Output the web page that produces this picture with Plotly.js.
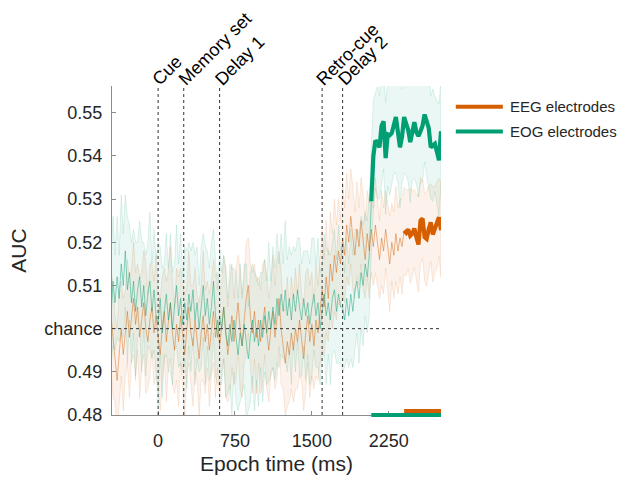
<!DOCTYPE html>
<html>
<head>
<meta charset="utf-8">
<script src="https://cdn.plot.ly/plotly-3.0.1.min.js"></script>
<style>html,body{margin:0;padding:0;background:#fff;}#chart{width:630px;height:477px;}</style>
</head>
<body>
<div id="chart"></div>
<script>
// ---- data ----
const times = [-460,-440,-420,-400,-380,-360,-340,-320,-300,-280,
  -260,-240,-220,-200,-180,-160,-140,-120,-100,-80,
  -60,-40,-20,0,20,40,60,80,100,120,
  140,160,180,200,220,240,260,280,300,320,
  340,360,380,400,420,440,460,480,500,520,
  540,560,580,600,620,640,660,680,700,720,
  740,760,780,800,820,840,860,880,900,920,
  940,960,980,1000,1020,1040,1060,1080,1100,1120,
  1140,1160,1180,1200,1220,1240,1260,1280,1300,1320,
  1340,1360,1380,1400,1420,1440,1460,1480,1500,1520,
  1540,1560,1580,1600,1620,1640,1660,1680,1700,1720,
  1740,1760,1780,1800,1820,1840,1860,1880,1900,1920,
  1940,1960,1980,2000,2020,2040,2060,2080,2100,2120,
  2140,2160,2180,2200,2220,2240,2260,2280,2300,2320,
  2340,2360,2380,2400,2420,2440,2460,2480,2500,2520,
  2540,2560,2580,2600,2620,2640,2660,2680,2700,2720,
  2740,2760];

const seriesNames = ["EEG electrodes", "EOG electrodes"];

const eegMean = [0.503,0.497,0.493,0.488,0.495,0.500,0.494,0.499,0.504,0.498,
  0.503,0.507,0.501,0.505,0.498,0.502,0.506,0.500,0.497,0.502,
  0.505,0.499,0.503,0.498,0.494,0.500,0.504,0.497,0.502,0.506,
  0.499,0.495,0.501,0.497,0.503,0.498,0.494,0.500,0.505,0.499,
  0.496,0.502,0.498,0.493,0.499,0.503,0.497,0.501,0.495,0.500,
  0.504,0.498,0.502,0.496,0.500,0.505,0.499,0.494,0.498,0.503,
  0.497,0.501,0.506,0.500,0.496,0.502,0.507,0.510,0.503,0.499,
  0.504,0.498,0.502,0.497,0.501,0.505,0.499,0.495,0.500,0.504,
  0.498,0.502,0.507,0.500,0.496,0.492,0.497,0.494,0.499,0.495,
  0.500,0.497,0.502,0.498,0.493,0.499,0.503,0.497,0.501,0.496,
  0.502,0.499,0.504,0.509,0.505,0.512,0.507,0.515,0.511,0.517,
  0.513,0.518,0.515,0.521,0.517,0.524,0.520,0.526,0.521,0.517,
  0.523,0.519,0.525,0.520,0.516,0.522,0.518,0.523,0.519,0.524,
  0.520,0.516,0.521,0.518,0.523,0.519,0.515,0.520,0.517,0.522,
  0.518,0.521,0.519,0.5227,0.5222,0.5230,0.5215,0.5220,0.5232,0.5212,
  0.5195,0.5250,0.5255,0.5212,0.5208,0.5230,0.5246,0.5218,0.5230,0.5240,
  0.5258,0.5228];

const eegErr = [0.011,0.013,0.010,0.012,0.014,0.011,0.013,0.010,0.012,0.014,
  0.011,0.013,0.012,0.010,0.014,0.011,0.012,0.015,0.011,0.013,
  0.010,0.012,0.014,0.011,0.013,0.012,0.010,0.014,0.011,0.013,
  0.012,0.010,0.013,0.015,0.011,0.012,0.014,0.010,0.013,0.011,
  0.014,0.012,0.010,0.013,0.011,0.015,0.012,0.010,0.013,0.011,
  0.012,0.014,0.011,0.013,0.010,0.012,0.015,0.011,0.013,0.012,
  0.010,0.013,0.011,0.014,0.012,0.010,0.013,0.011,0.012,0.014,
  0.011,0.013,0.010,0.012,0.014,0.011,0.013,0.012,0.010,0.013,
  0.012,0.014,0.011,0.013,0.010,0.012,0.015,0.011,0.013,0.012,
  0.014,0.011,0.013,0.010,0.012,0.014,0.011,0.013,0.012,0.010,
  0.013,0.011,0.012,0.014,0.011,0.013,0.010,0.012,0.011,0.013,
  0.011,0.012,0.010,0.013,0.011,0.012,0.010,0.011,0.012,0.010,
  0.011,0.009,0.010,0.011,0.009,0.010,0.011,0.010,0.009,0.011,
  0.010,0.009,0.011,0.010,0.009,0.010,0.011,0.009,0.010,0.011,
  0.010,0.009,0.011,0.010,0.010,0.009,0.011,0.010,0.009,0.010,
  0.011,0.010,0.009,0.010,0.011,0.010,0.009,0.011,0.010,0.010,
  0.009,0.011];

const eogMean = [0.503,0.511,0.506,0.512,0.507,0.515,0.510,0.518,0.509,0.513,
  0.506,0.511,0.504,0.509,0.512,0.505,0.510,0.503,0.508,0.511,
  0.504,0.509,0.503,0.501,0.507,0.499,0.504,0.508,0.502,0.506,
  0.500,0.505,0.510,0.503,0.507,0.501,0.506,0.502,0.508,0.504,
  0.509,0.502,0.506,0.500,0.505,0.510,0.503,0.507,0.501,0.505,
  0.511,0.503,0.498,0.503,0.500,0.505,0.499,0.496,0.501,0.497,
  0.502,0.498,0.494,0.499,0.496,0.501,0.497,0.493,0.498,0.502,
  0.497,0.500,0.496,0.502,0.498,0.503,0.499,0.504,0.500,0.505,
  0.501,0.507,0.503,0.508,0.504,0.509,0.503,0.507,0.502,0.508,
  0.504,0.509,0.505,0.502,0.507,0.503,0.506,0.501,0.505,0.508,
  0.503,0.506,0.500,0.504,0.508,0.503,0.506,0.502,0.507,0.509,
  0.504,0.508,0.505,0.505,0.502,0.507,0.503,0.508,0.504,0.509,
  0.511,0.507,0.513,0.510,0.515,0.512,0.517,0.5295,0.5400,0.5436,
  0.5430,0.5420,0.5470,0.5480,0.5395,0.5450,0.5448,0.5453,0.5470,0.5490,
  0.5455,0.5420,0.5445,0.5490,0.5475,0.5460,0.5432,0.5455,0.5478,0.5455,
  0.5446,0.5457,0.5470,0.5496,0.5480,0.5465,0.5420,0.5425,0.5428,0.5410,
  0.5390,0.5457];

const eogErr = [0.012,0.015,0.011,0.014,0.010,0.016,0.012,0.013,0.017,0.011,
  0.014,0.012,0.016,0.011,0.013,0.015,0.010,0.014,0.012,0.016,
  0.011,0.014,0.013,0.019,0.012,0.015,0.011,0.014,0.012,0.016,
  0.013,0.010,0.014,0.012,0.015,0.011,0.013,0.016,0.012,0.014,
  0.011,0.015,0.013,0.010,0.014,0.012,0.016,0.011,0.013,0.015,
  0.012,0.014,0.011,0.016,0.013,0.012,0.015,0.011,0.014,0.017,
  0.012,0.015,0.013,0.016,0.011,0.014,0.018,0.012,0.015,0.013,
  0.016,0.012,0.014,0.011,0.015,0.013,0.012,0.016,0.011,0.014,
  0.013,0.015,0.012,0.014,0.011,0.016,0.013,0.012,0.015,0.011,
  0.014,0.012,0.016,0.013,0.011,0.015,0.012,0.014,0.016,0.013,
  0.012,0.015,0.013,0.011,0.014,0.016,0.012,0.015,0.013,0.014,
  0.012,0.016,0.013,0.015,0.011,0.014,0.012,0.015,0.013,0.014,
  0.012,0.015,0.013,0.014,0.012,0.013,0.014,0.012,0.013,0.011,
  0.013,0.012,0.014,0.011,0.013,0.012,0.014,0.012,0.011,0.013,
  0.012,0.014,0.011,0.013,0.012,0.012,0.014,0.011,0.013,0.012,
  0.014,0.012,0.013,0.011,0.012,0.014,0.012,0.013,0.011,0.012,
  0.013,0.012];

// first time point of significant decoding (thick line + bar)
const eegSigStart = 2400;
const eogSigStart = 2080;

const eventTimes = [0, 250, 600, 1600, 1800];
const eventLabels = ["Cue", "Memory set", "Delay 1", "Retro-cue", "Delay 2"];

const chanceLevel = 0.5;
const yTickVals = [0.48, 0.49, 0.50, 0.51, 0.52, 0.53, 0.54, 0.55];
const yTickText = ["0.48", "0.49", "chance", "0.51", "0.52", "0.53", "0.54", "0.55"];
const xTickVals = [0, 750, 1500, 2250];

// ---- styling ----
const FONT = "Liberation Sans, Arial, Helvetica, sans-serif";
const TXT = "#262626";
const colEEG = [213, 94, 0];
const colEOG = [0, 158, 115];
const rgba = (c, a) => `rgba(${c[0]},${c[1]},${c[2]},${a})`;

function band(mean, err, col) {
  const up = mean.map((m, i) => m + err[i]);
  const lo = mean.map((m, i) => m - err[i]);
  return {
    x: times.concat(times.slice().reverse()),
    y: up.concat(lo.slice().reverse()),
    type: "scatter", mode: "lines", fill: "toself",
    fillcolor: rgba(col, 0.08),
    line: {color: rgba(col, 0.16), width: 0.8},
    hoverinfo: "skip", showlegend: false
  };
}
function thin(mean, col) {
  return {x: times, y: mean, type: "scatter", mode: "lines",
    line: {color: rgba(col, 0.45), width: 1}, showlegend: false};
}
function thick(mean, start, col, name) {
  const xs = [], ys = [];
  times.forEach((t, i) => { if (t >= start) { xs.push(t); ys.push(mean[i]); } });
  return {x: xs, y: ys, type: "scatter", mode: "lines", name: name,
    line: {color: rgba(col, 1), width: 4.2}, showlegend: false};
}

const data = [
  band(eegMean, eegErr, colEEG),
  band(eogMean, eogErr, colEOG),
  thin(eegMean, colEEG),
  thin(eogMean, colEOG),
  thick(eogMean, eogSigStart, colEOG, seriesNames[1]),
  thick(eegMean, eegSigStart, colEEG, seriesNames[0])
];

const shapes = [];
const annotations = [];
eventTimes.forEach((t, i) => {
  shapes.push({type: "line", xref: "x", yref: "paper", x0: t, x1: t, y0: 0, y1: 1,
    line: {color: "#333", width: 1, dash: "3px,3px"}});
  annotations.push({xref: "x", yref: "paper", x: t, y: 1, text: eventLabels[i],
    showarrow: false, textangle: -45, xanchor: "left", yanchor: "bottom",
    xshift: -12, yshift: -6, font: {family: FONT, size: 18, color: "#000"}});
});
shapes.push({type: "line", xref: "paper", yref: "y", x0: 0, x1: 1, y0: chanceLevel, y1: chanceLevel,
  line: {color: "#333", width: 1, dash: "3px,3px"}});

// significance bars
const tEnd = times[times.length - 1];
shapes.push({type: "rect", xref: "x", yref: "paper", x0: eogSigStart, x1: tEnd, y0: -0.006, y1: 0.006,
  fillcolor: rgba(colEOG, 1), line: {width: 0}, layer: "above"});
shapes.push({type: "rect", xref: "x", yref: "paper", x0: eegSigStart, x1: tEnd, y0: 0.006, y1: 0.018,
  fillcolor: rgba(colEEG, 1), line: {width: 0}, layer: "above"});

// custom legend
const legCols = [colEEG, colEOG];
const legY = [0.937, 0.862];
seriesNames.forEach((n, i) => {
  shapes.push({type: "line", xref: "paper", yref: "paper", x0: 1.045, x1: 1.188, y0: legY[i], y1: legY[i],
    line: {color: rgba(legCols[i], 1), width: 4}});
  annotations.push({xref: "paper", yref: "paper", x: 1.205, y: legY[i], text: n, showarrow: false,
    xanchor: "left", yanchor: "middle", font: {family: FONT, size: 15, color: TXT}});
});

const layout = {
  width: 630, height: 477,
  margin: {l: 112, r: 189, t: 86, b: 62},
  paper_bgcolor: "#fff", plot_bgcolor: "#fff",
  font: {family: FONT, color: TXT},
  showlegend: false,
  xaxis: {
    range: [-450, 2760], tickvals: xTickVals, ticks: "inside", ticklen: 4, tickcolor: "#8c8c8c",
    showline: true, linecolor: "#8c8c8c", linewidth: 1, showgrid: false, zeroline: false,
    tickfont: {family: FONT, size: 18, color: TXT}, ticklabelstandoff: 9,
    title: {text: "Epoch time (ms)", font: {family: FONT, size: 21, color: TXT}, standoff: 6}
  },
  yaxis: {
    range: [0.48, 0.5562], tickvals: yTickVals, ticktext: yTickText, ticks: "inside", ticklen: 4,
    tickcolor: "#8c8c8c", showline: true, linecolor: "#8c8c8c", linewidth: 1, showgrid: false, zeroline: false,
    tickfont: {family: FONT, size: 18, color: TXT}, ticklabelstandoff: 5,
    title: {text: "AUC", font: {family: FONT, size: 21, color: TXT}, standoff: 12}
  },
  shapes: shapes,
  annotations: annotations
};

Plotly.newPlot("chart", data, layout, {displayModeBar: false, staticPlot: true});
</script>
</body>
</html>
